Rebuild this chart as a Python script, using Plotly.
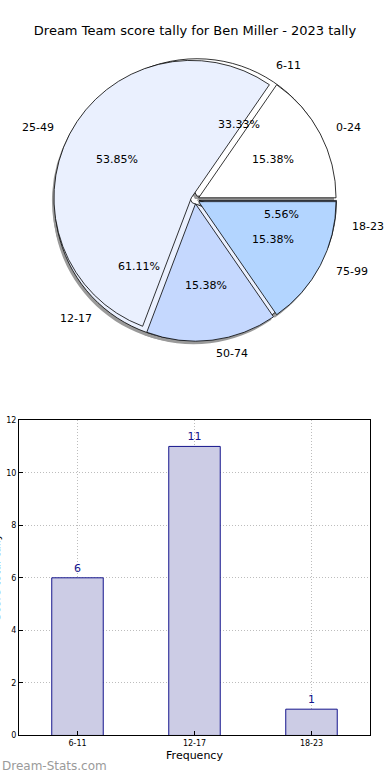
import math
import plotly.graph_objects as go

# ---------------- data ----------------
title_text = "Dream Team score tally for Ben Miller - 2023 tally"
score_ranges = ["0-24", "25-49", "50-74", "75-99"]
score_counts = [2, 7, 2, 2]
freq_ranges = ["6-11", "12-17", "18-23"]
freq_counts = [6, 11, 1]
y_ticks = [0, 2, 4, 6, 8, 10, 12]

# ---------------- layout constants ----------------
W, H = 390, 780
CX, CY = 195, 198          # pie centre (px)
R = 139                    # pie radius (px)
PULL = 0.03
FONT = "DejaVu Sans"

score_colors = ["#ffffff", "#eaf0fe", "#c5d8fe", "#b3d5ff"]
freq_colors = ["#ffffff", "#eaf0fe", "#c5d8fe"]


def pie_domain(dx=0, dy=0):
    half = R * (1 + PULL)
    cx, cy = CX + dx, CY + dy
    return dict(x=[(cx - half) / W, (cx + half) / W],
                y=[1 - (cy + half) / H, 1 - (cy - half) / H])


def pie_trace(labels, values, colors, dx=0, dy=0, line=True):
    # plotly's counterclockwise pies end the first slice at `rotation`;
    # shift so the first slice starts at 3 o'clock like matplotlib
    rot = 90 - 360 * values[0] / sum(values)
    return go.Pie(
        labels=labels, values=values, sort=False,
        direction="counterclockwise", rotation=rot,
        pull=[PULL] * len(values),
        marker=dict(colors=colors,
                    line=dict(color="#000000" if line else "rgba(0,0,0,0)",
                              width=0.8 if line else 0)),
        textinfo="none", hoverinfo="label+percent",
        domain=pie_domain(dx, dy), showlegend=False,
    )


fig = go.Figure()
# shadows
fig.add_trace(pie_trace(freq_ranges, freq_counts, ["#9a9a9a"] * 3, -2, 3, line=False))
fig.add_trace(pie_trace(score_ranges, score_counts, ["#9a9a9a"] * 4, -2, 3, line=False))
# under pie (frequency ranges) then top pie (score ranges)
fig.add_trace(pie_trace(freq_ranges, freq_counts, freq_colors))
fig.add_trace(pie_trace(score_ranges, score_counts, score_colors))

annotations = []


def pie_texts(labels, values):
    total = sum(values)
    start = 0.0
    for lab, v in zip(labels, values):
        frac = v / total
        mid = math.radians((start + frac / 2) * 360)
        start += frac
        c, s = math.cos(mid), math.sin(mid)
        rp = (PULL + 0.6) * R
        annotations.append(dict(
            x=(CX + rp * c) / W, y=1 - (CY - rp * s) / H, xref="paper", yref="paper",
            text=f"{frac * 100:.2f}%", showarrow=False,
            xanchor="center", yanchor="middle",
            font=dict(family=FONT, size=11, color="#000000")))
        rl = (PULL + 1.1) * R
        annotations.append(dict(
            x=(CX + rl * c) / W, y=1 - (CY - rl * s) / H, xref="paper", yref="paper",
            text=lab, showarrow=False,
            xanchor="left" if c >= 0 else "right", yanchor="middle",
            font=dict(family=FONT, size=11, color="#000000")))


pie_texts(score_ranges, score_counts)
pie_texts(freq_ranges, freq_counts)

# ---------------- bar chart ----------------
fig.add_trace(go.Bar(
    x=freq_ranges, y=freq_counts, width=0.44,
    marker=dict(color="#ccccE5", line=dict(color="#14148c", width=1)),
    text=[str(v) for v in freq_counts], textposition="outside",
    textfont=dict(family=FONT, size=11, color="#14148c"),
    cliponaxis=False, showlegend=False, xaxis="x", yaxis="y",
))

grid = dict(showgrid=True, gridcolor="#bdbdbd", griddash="1px,2px", gridwidth=1)

fig.update_layout(
    width=W, height=H,
    margin=dict(l=0, r=0, t=0, b=0),
    paper_bgcolor="#ffffff", plot_bgcolor="#ffffff",
    font=dict(family=FONT, color="#000000"),
    title=dict(text=title_text, x=0.5, xanchor="center", y=1 - 30 / H, yanchor="middle",
               font=dict(family=FONT, size=13, color="#000000")),
    xaxis=dict(domain=[19 / W, 370 / W], anchor="y",
               showline=True, linecolor="#000000", linewidth=1, mirror=True,
               ticks="inside", ticklen=4, tickcolor="#000000",
               tickfont=dict(family=FONT, size=8),
               title=dict(text="Frequency", font=dict(family=FONT, size=11), standoff=4),
               range=[-0.5, 2.5], **grid),
    yaxis=dict(domain=[1 - 740 / H, 1 - 421 / H], anchor="x",
               range=[0, 12], tickvals=y_ticks,
               showline=True, linecolor="#000000", linewidth=1, mirror=True,
               ticks="inside", ticklen=4, tickcolor="#000000",
               tickfont=dict(family=FONT, size=8),
               zeroline=False, **grid),
    annotations=annotations + [
        dict(x=0, y=1 - 580 / H, xref="paper", yref="paper", text="Score total tally",
             textangle=-90, showarrow=False, xanchor="center", yanchor="middle",
             xshift=-4, font=dict(family=FONT, size=11, color="#000000")),
        dict(x=0, y=1 - 771 / H, xref="paper", yref="paper", text="Dream-Stats.com",
             showarrow=False, xanchor="left", yanchor="middle",
             font=dict(family=FONT, size=12, color="#9a9a9a")),
    ],
)

fig.write_html("out.html", config={"displayModeBar": False},
               post_script="document.body.style.margin='0';")
